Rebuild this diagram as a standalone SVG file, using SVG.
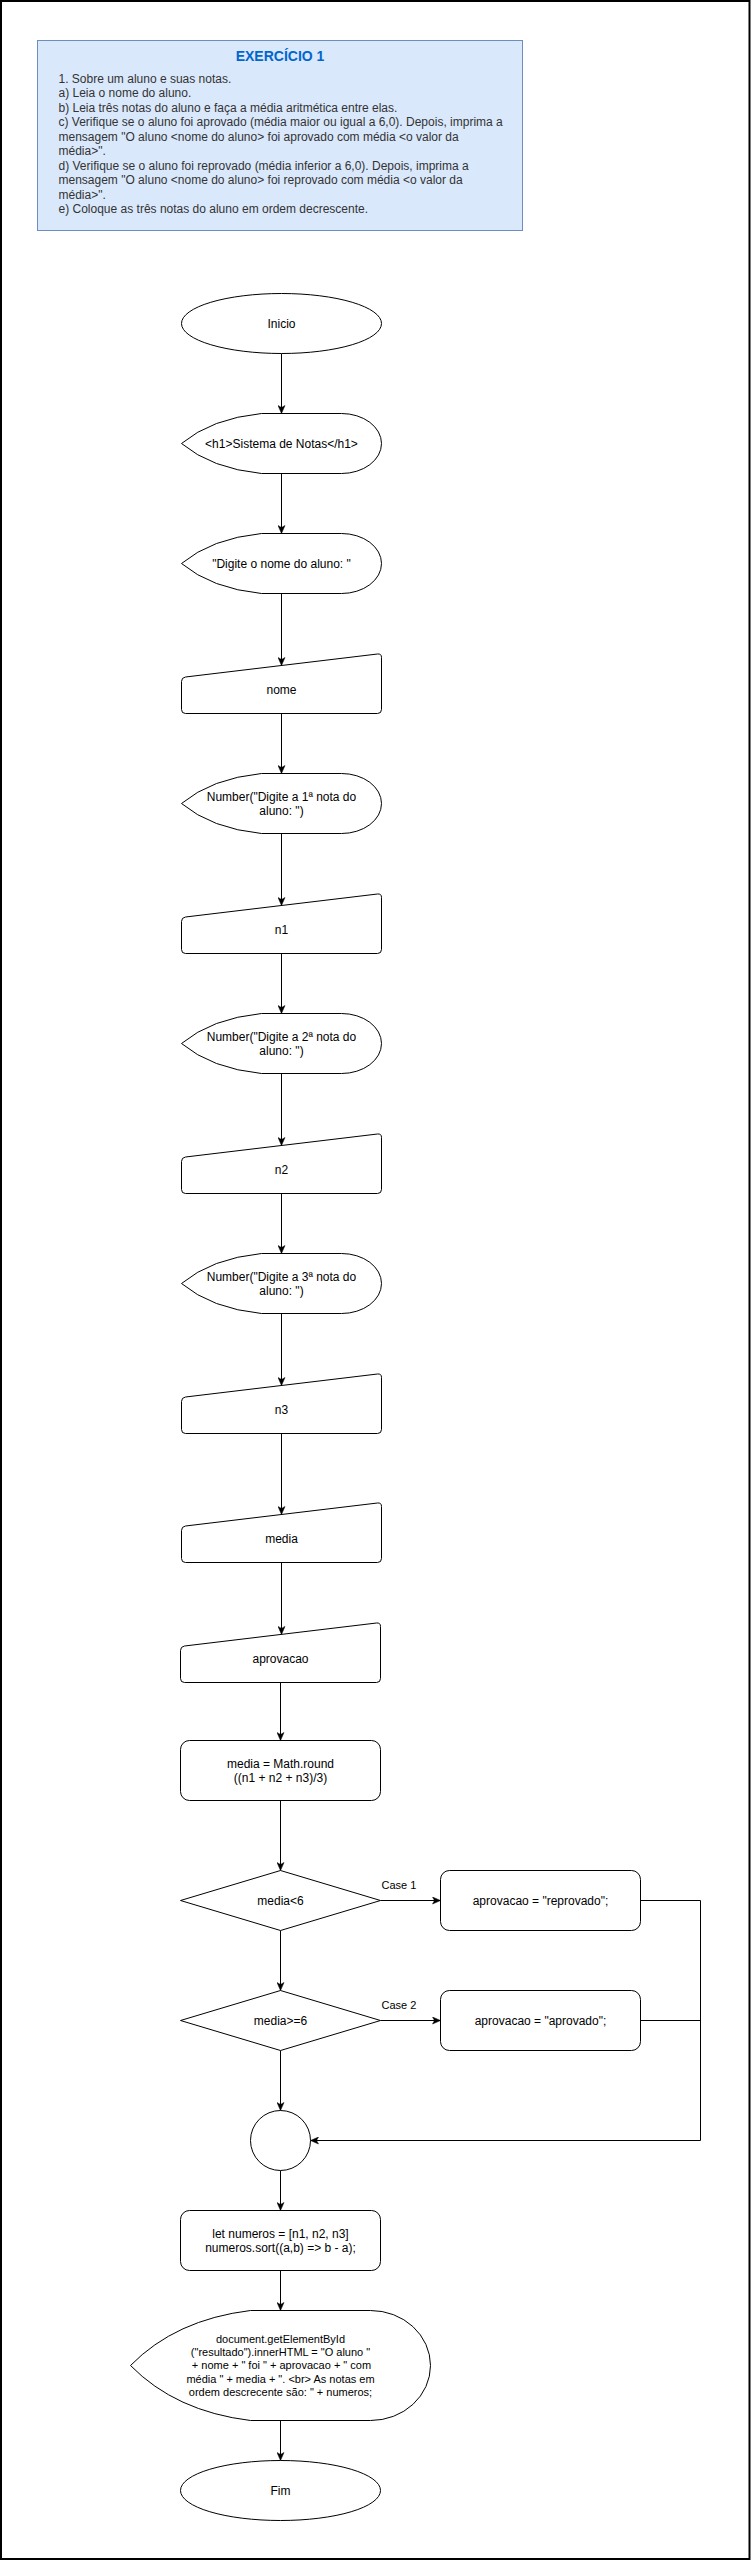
<svg xmlns="http://www.w3.org/2000/svg" xmlns:xlink="http://www.w3.org/1999/xlink" width="751" height="2561" viewBox="0 0 751 2561">
<style>
  text { font-family: "Liberation Sans", Arial, Helvetica, sans-serif; font-size: 12px; fill: #000; }
  .c { text-anchor: middle; }
  .shape { fill: #fff; stroke: #000; stroke-width: 1; }
  .edge { fill: none; stroke: #000; stroke-width: 1; }
  .arrow { marker-end: url(#arr); }
  .desc { fill: #333333; }
  .title { fill: #0066CC; font-weight: bold; font-size: 14px; }
  .small { font-size: 11px; }
</style>
<defs>
  <marker id="arr" viewBox="0 0 9 8" markerWidth="9" markerHeight="8" refX="8.5" refY="4" orient="auto" markerUnits="userSpaceOnUse">
    <path d="M0.5,0.5 L8.5,4 L0.5,7.5 L2.5,4 Z" fill="#000" stroke="#000" stroke-width="0.5"/>
  </marker>
  <path id="disp" d="M0,30 Q30,5 80,0 L160,0 A40,30 0 0 1 160,60 L80,60 Q30,55 0,30 Z"/>
  <path id="minput" d="M0,28 Q0,24 4,23.5 L196,0.5 Q200,0 200,4 L200,56 Q200,60 196,60 L4,60 Q0,60 0,56 Z"/>
</defs>
<rect x="0" y="0" width="751" height="2561" fill="#fff"/>
<rect id="frame" x="1" y="1" width="748.5" height="2558" fill="none" stroke="#000" stroke-width="2"/>

<g id="enunciado">
  <rect x="37.5" y="40.5" width="485" height="190" fill="#dae8fc" stroke="#6c8ebf" stroke-width="1"/>
  <text class="title c" x="280" y="61">EXERCÍCIO 1</text>
  <text class="desc" x="58.5" y="82.5">1. Sobre um aluno e suas notas.</text>
  <text class="desc" x="58.5" y="97">a) Leia o nome do aluno.</text>
  <text class="desc" x="58.5" y="111.5">b) Leia três notas do aluno e faça a média aritmética entre elas.</text>
  <text class="desc" x="58.5" y="126">c) Verifique se o aluno foi aprovado (média maior ou igual a 6,0). Depois, imprima a</text>
  <text class="desc" x="58.5" y="140.5">mensagem "O aluno &lt;nome do aluno&gt; foi aprovado com média &lt;o valor da</text>
  <text class="desc" x="58.5" y="155">média&gt;".</text>
  <text class="desc" x="58.5" y="169.5">d) Verifique se o aluno foi reprovado (média inferior a 6,0). Depois, imprima a</text>
  <text class="desc" x="58.5" y="184">mensagem "O aluno &lt;nome do aluno&gt; foi reprovado com média &lt;o valor da</text>
  <text class="desc" x="58.5" y="198.5">média&gt;".</text>
  <text class="desc" x="58.5" y="213">e) Coloque as três notas do aluno em ordem decrescente.</text>
</g>

<g id="connectors">
  <path class="edge arrow" d="M281.5,353.5 V413.5"/>
  <path class="edge arrow" d="M281.5,473.5 V533.5"/>
  <path class="edge arrow" d="M281.5,593.5 V665.5"/>
  <path class="edge arrow" d="M281.5,713.5 V773.5"/>
  <path class="edge arrow" d="M281.5,833.5 V905.5"/>
  <path class="edge arrow" d="M281.5,953.5 V1013.5"/>
  <path class="edge arrow" d="M281.5,1073.5 V1145.5"/>
  <path class="edge arrow" d="M281.5,1193.5 V1253.5"/>
  <path class="edge arrow" d="M281.5,1313.5 V1385.5"/>
  <path class="edge arrow" d="M281.5,1433.5 V1514.5"/>
  <path class="edge arrow" d="M281.5,1562.5 V1634.4"/>
  <path class="edge arrow" d="M280.5,1682.5 V1740.5"/>
  <path class="edge arrow" d="M280.5,1800.5 V1870.5"/>
  <path class="edge arrow" d="M380.5,1900.5 H440.5"/>
  <path class="edge arrow" d="M280.5,1930.5 V1990.5"/>
  <path class="edge arrow" d="M380.5,2020.5 H440.5"/>
  <path class="edge arrow" d="M280.5,2050.5 V2110.5"/>
  <path class="edge arrow" d="M640.5,1900.5 H700.5 V2140.5 H310.5"/>
  <path class="edge" d="M640.5,2020.5 H700.5"/>
  <path class="edge arrow" d="M280.5,2170.5 V2210.5"/>
  <path class="edge arrow" d="M280.5,2270.5 V2310.5"/>
  <path class="edge arrow" d="M280.5,2420.5 V2460.5"/>
  <text class="small" x="381.5" y="1888.5">Case 1</text>
  <text class="small" x="381.5" y="2008.5">Case 2</text>
</g>

<g id="inicio">
  <ellipse class="shape" cx="281.5" cy="323.5" rx="100" ry="30"/>
  <text class="c" x="281.5" y="327.7">Inicio</text>
</g>
<g id="titulo-h1">
  <use href="#disp" xlink:href="#disp" class="shape" x="181.5" y="413.5"/>
  <text class="c" x="281.5" y="447.7">&lt;h1&gt;Sistema de Notas&lt;/h1&gt;</text>
</g>
<g id="prompt-nome">
  <use href="#disp" xlink:href="#disp" class="shape" x="181.5" y="533.5"/>
  <text class="c" x="281.5" y="567.7">"Digite o nome do aluno: "</text>
</g>
<g id="nome">
  <use href="#minput" xlink:href="#minput" class="shape" x="181.5" y="653.5"/>
  <text class="c" x="281.5" y="694.2">nome</text>
</g>
<g id="prompt-n1">
  <use href="#disp" xlink:href="#disp" class="shape" x="181.5" y="773.5"/>
  <text class="c" x="281.5" y="800.5">Number("Digite a 1ª nota do</text>
  <text class="c" x="281.5" y="814.9">aluno: ")</text>
</g>
<g id="n1">
  <use href="#minput" xlink:href="#minput" class="shape" x="181.5" y="893.5"/>
  <text class="c" x="281.5" y="934.2">n1</text>
</g>
<g id="prompt-n2">
  <use href="#disp" xlink:href="#disp" class="shape" x="181.5" y="1013.5"/>
  <text class="c" x="281.5" y="1040.5">Number("Digite a 2ª nota do</text>
  <text class="c" x="281.5" y="1054.9">aluno: ")</text>
</g>
<g id="n2">
  <use href="#minput" xlink:href="#minput" class="shape" x="181.5" y="1133.5"/>
  <text class="c" x="281.5" y="1174.2">n2</text>
</g>
<g id="prompt-n3">
  <use href="#disp" xlink:href="#disp" class="shape" x="181.5" y="1253.5"/>
  <text class="c" x="281.5" y="1280.5">Number("Digite a 3ª nota do</text>
  <text class="c" x="281.5" y="1294.9">aluno: ")</text>
</g>
<g id="n3">
  <use href="#minput" xlink:href="#minput" class="shape" x="181.5" y="1373.5"/>
  <text class="c" x="281.5" y="1414.2">n3</text>
</g>
<g id="media">
  <use href="#minput" xlink:href="#minput" class="shape" x="181.5" y="1502.5"/>
  <text class="c" x="281.5" y="1543.2">media</text>
</g>
<g id="aprovacao">
  <use href="#minput" xlink:href="#minput" class="shape" x="180.5" y="1622.5"/>
  <text class="c" x="280.5" y="1663.2">aprovacao</text>
</g>
<g id="calc-media">
  <rect class="shape" x="180.5" y="1740.5" width="200" height="60" rx="9" ry="9"/>
  <text class="c" x="280.5" y="1767.5">media = Math.round</text>
  <text class="c" x="280.5" y="1781.9">((n1 + n2 + n3)/3)</text>
</g>
<g id="decisao-1">
  <path class="shape" d="M180.5,1900.5 L280.5,1870.5 L380.5,1900.5 L280.5,1930.5 Z"/>
  <text class="c" x="280.5" y="1904.7">media&lt;6</text>
</g>
<g id="reprovado">
  <rect class="shape" x="440.5" y="1870.5" width="200" height="60" rx="9" ry="9"/>
  <text class="c" x="540.5" y="1904.7">aprovacao = "reprovado";</text>
</g>
<g id="decisao-2">
  <path class="shape" d="M180.5,2020.5 L280.5,1990.5 L380.5,2020.5 L280.5,2050.5 Z"/>
  <text class="c" x="280.5" y="2024.7">media&gt;=6</text>
</g>
<g id="aprovado">
  <rect class="shape" x="440.5" y="1990.5" width="200" height="60" rx="9" ry="9"/>
  <text class="c" x="540.5" y="2024.7">aprovacao = "aprovado";</text>
</g>
<g id="juncao">
  <circle class="shape" cx="280.5" cy="2140.5" r="30"/>
</g>
<g id="ordenar">
  <rect class="shape" x="180.5" y="2210.5" width="200" height="60" rx="9" ry="9"/>
  <text class="c" x="280.5" y="2237.5">let numeros = [n1, n2, n3]</text>
  <text class="c" x="280.5" y="2251.9">numeros.sort((a,b) =&gt; b - a);</text>
</g>
<g id="resultado">
  <path class="shape" d="M130.5,2365.5 Q175.5,2319.6 250.5,2310.5 L370.5,2310.5 A60,55 0 0 1 370.5,2420.5 L250.5,2420.5 Q175.5,2411.4 130.5,2365.5 Z"/>
  <text class="c small" x="280.5" y="2343">document.getElementById</text>
  <text class="c small" x="280.5" y="2356.2">("resultado").innerHTML = "O aluno "</text>
  <text class="c small" x="281.5" y="2369.4">+ nome + " foi " + aprovacao + " com</text>
  <text class="c small" x="280.5" y="2382.6">média " + media + ". &lt;br&gt; As notas em</text>
  <text class="c small" x="280.5" y="2395.8">ordem descrecente são: " + numeros;</text>
</g>
<g id="fim">
  <ellipse class="shape" cx="280.5" cy="2490.5" rx="100" ry="30"/>
  <text class="c" x="280.5" y="2494.7">Fim</text>
</g>
</svg>
